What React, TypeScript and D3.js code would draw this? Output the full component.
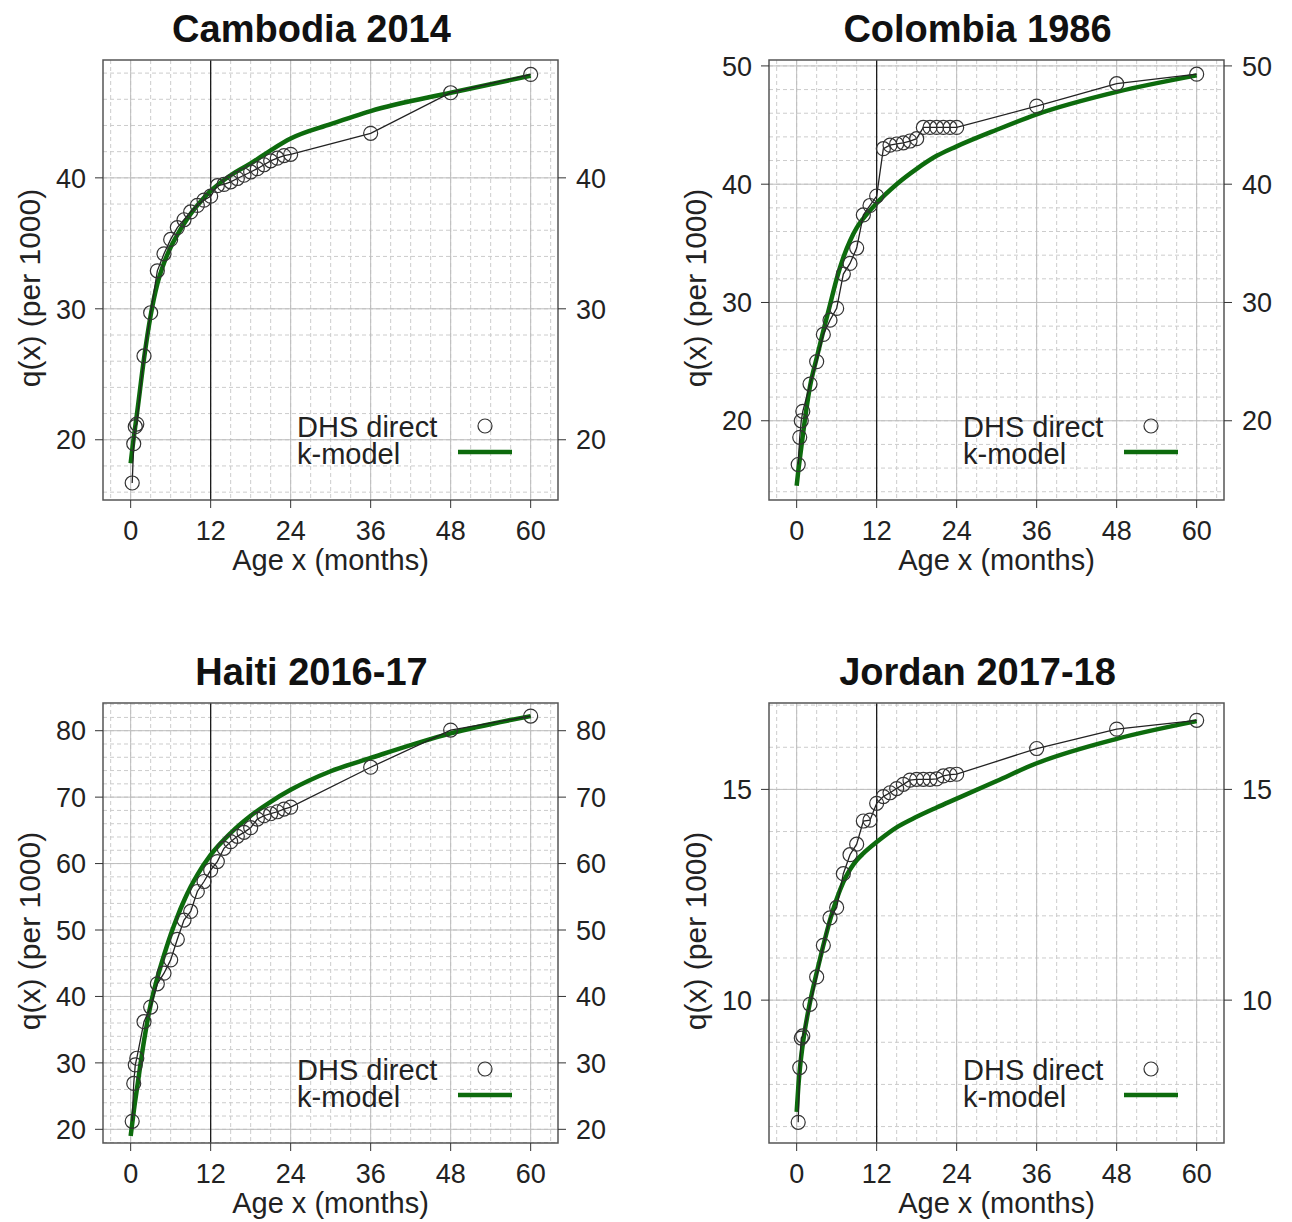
import * as d3 from 'd3';

// ages (months) of the DHS direct estimates
const ages = [0.23, 0.46, 0.69, 0.92, 2, 3, 4, 5, 6, 7, 8, 9, 10, 11, 12, 13, 14, 15, 16, 17, 18, 19, 20, 21, 22, 23, 24, 36, 48, 60];
// ages at which the k-model curve was read
const kAges = [0, 0.25, 0.5, 1, 2, 3, 4, 5, 6, 7, 8, 9, 10, 12, 15, 18, 21, 24, 30, 36, 48, 60];
const xTicks = [0, 12, 24, 36, 48, 60];

const cambodiaDirect = [16.7, 19.7, 21.0, 21.2, 26.4, 29.7, 32.9, 34.2, 35.3, 36.2, 36.8, 37.4, 37.9, 38.3, 38.6, 39.4, 39.5, 39.7, 39.95, 40.2, 40.45, 40.7, 41.0, 41.3, 41.5, 41.7, 41.8, 43.4, 46.5, 47.9];
const cambodiaK = [18.2, 19.3, 20.3, 22.2, 26.2, 29.5, 31.9, 33.5, 34.7, 35.65, 36.5, 37.25, 37.9, 39.0, 40.2, 41.1, 42.1, 43.0, 44.1, 45.1, 46.5, 47.8];

const colombiaDirect = [16.3, 18.6, 20.0, 20.8, 23.1, 25.0, 27.3, 28.5, 29.5, 32.4, 33.3, 34.6, 37.4, 38.2, 39.0, 43.0, 43.3, 43.4, 43.5, 43.65, 43.85, 44.8, 44.8, 44.8, 44.8, 44.8, 44.8, 46.6, 48.5, 49.3];
const colombiaK = [14.5, 15.8, 16.9, 19.1, 22.9, 25.3, 27.6, 29.8, 32.0, 33.8, 35.2, 36.3, 37.1, 38.4, 40.0, 41.3, 42.4, 43.2, 44.6, 45.9, 47.8, 49.2];

const haitiDirect = [21.2, 26.9, 29.7, 30.7, 36.2, 38.4, 41.9, 43.5, 45.5, 48.6, 51.5, 52.8, 55.8, 57.3, 59.0, 60.3, 62.3, 63.3, 64.1, 64.7, 65.4, 66.7, 67.2, 67.5, 67.8, 68.2, 68.5, 74.5, 80.1, 82.2];
const haitiK = [19.0, 21.0, 23.0, 26.5, 33.3, 38.8, 42.8, 46.2, 49.3, 52.0, 54.4, 56.5, 58.3, 61.3, 64.6, 67.2, 69.3, 71.1, 73.9, 75.9, 79.6, 82.2];

const jordanDirect = [7.1, 8.4, 9.1, 9.15, 9.9, 10.55, 11.3, 11.95, 12.2, 13.0, 13.45, 13.7, 14.25, 14.27, 14.67, 14.83, 14.92, 15.02, 15.12, 15.22, 15.24, 15.24, 15.24, 15.25, 15.32, 15.35, 15.36, 15.97, 16.43, 16.64];
const jordanK = [7.35, 7.95, 8.4, 9.05, 9.95, 10.65, 11.3, 11.9, 12.4, 12.8, 13.1, 13.32, 13.48, 13.75, 14.1, 14.35, 14.57, 14.78, 15.2, 15.62, 16.2, 16.62];

const panels = [
  { title: 'Cambodia 2014', direct: cambodiaDirect, k: cambodiaK, yTicks: [20, 30, 40], minor: 2, yDomain: [15.4, 49.0], left: 103, top: 60 },
  { title: 'Colombia 1986', direct: colombiaDirect, k: colombiaK, yTicks: [20, 30, 40, 50], minor: 2, yDomain: [13.3, 50.5], left: 769, top: 60 },
  { title: 'Haiti 2016-17', direct: haitiDirect, k: haitiK, yTicks: [20, 30, 40, 50, 60, 70, 80], minor: 2, yDomain: [17.94, 84.17], left: 103, top: 703 },
  { title: 'Jordan 2017-18', direct: jordanDirect, k: jordanK, yTicks: [10, 15], minor: 1, yDomain: [6.61, 17.05], left: 769, top: 703 },
];

const W = 455;
const H = 440;
const FONT = '"Liberation Sans", Arial, sans-serif';
const GREEN = '#0d6b0d';

function Panel({ p }: { p: any }) {
  const x = d3.scaleLinear().domain([-4.15, 64.1]).range([0, W]);
  const y = d3.scaleLinear().domain(p.yDomain).range([H, 0]);

  const xMinor = d3.range(-3, 64.1, 3);
  const y0 = Math.ceil(p.yDomain[0] / p.minor) * p.minor;
  const yMinor = d3.range(y0, p.yDomain[1], p.minor);

  const direct = d3.line<number>().x((_, i) => x(ages[i])).y((d) => y(d));
  const kmodel = d3.line<number>().x((_, i) => x(kAges[i])).y((d) => y(d)).curve(d3.curveMonotoneX);

  return (
    <g transform={`translate(${p.left},${p.top})`} fontFamily={FONT}>
      {/* minor dashed grid */}
      {xMinor.map((v) => (
        <line key={'xm' + v} x1={x(v)} x2={x(v)} y1={0} y2={H} stroke="#cccccc" strokeDasharray="4 3" />
      ))}
      {yMinor.map((v) => (
        <line key={'ym' + v} x1={0} x2={W} y1={y(v)} y2={y(v)} stroke="#cccccc" strokeDasharray="4 3" />
      ))}
      {/* major solid grid */}
      {xTicks.map((v) => (
        <line key={'xg' + v} x1={x(v)} x2={x(v)} y1={0} y2={H} stroke="#bdbdbd" />
      ))}
      {p.yTicks.map((v: number) => (
        <line key={'yg' + v} x1={0} x2={W} y1={y(v)} y2={y(v)} stroke="#bdbdbd" />
      ))}
      <line x1={x(12)} x2={x(12)} y1={0} y2={H} stroke="#111" strokeWidth={1.2} />

      {/* k-model and direct estimates */}
      <path d={kmodel(p.k) || ''} fill="none" stroke={GREEN} strokeWidth={4.5} strokeLinejoin="round" />
      <path d={direct(p.direct) || ''} fill="none" stroke="#222" strokeWidth={1.3} />
      {p.direct.map((d: number, i: number) => (
        <circle key={'c' + i} cx={x(ages[i])} cy={y(d)} r={7} fill="none" stroke="#333" strokeWidth={1.2} />
      ))}

      {/* box */}
      <rect x={0} y={0} width={W} height={H} fill="none" stroke="#555" strokeWidth={1.5} />

      {/* axes */}
      {xTicks.map((v) => (
        <g key={'xt' + v}>
          <line x1={x(v)} x2={x(v)} y1={H} y2={H + 8} stroke="#333" />
          <text x={x(v)} y={H + 40} textAnchor="middle" fontSize={27} fill="#222">{v}</text>
        </g>
      ))}
      {p.yTicks.map((v: number) => (
        <g key={'yt' + v}>
          <line x1={-8} x2={0} y1={y(v)} y2={y(v)} stroke="#333" />
          <line x1={W} x2={W + 8} y1={y(v)} y2={y(v)} stroke="#333" />
          <text x={-17} y={y(v)} dy="0.36em" textAnchor="end" fontSize={27} fill="#222">{v}</text>
          <text x={W + 18} y={y(v)} dy="0.36em" textAnchor="start" fontSize={27} fill="#222">{v}</text>
        </g>
      ))}
      <text x={W / 2} y={H + 70} textAnchor="middle" fontSize={29} fill="#222">Age x (months)</text>
      <text transform={`translate(-63,${H / 2 + 8}) rotate(-90)`} textAnchor="middle" fontSize={30} fill="#222">q(x) (per 1000)</text>
      <text x={W / 2 - 19} y={-18} textAnchor="middle" fontSize={38} fontWeight="bold" fill="#111">{p.title}</text>

      {/* legend */}
      <text x={194} y={377} fontSize={29} fill="#222">DHS direct</text>
      <text x={194} y={404} fontSize={29} fill="#222">k-model</text>
      <circle cx={382} cy={366} r={7} fill="none" stroke="#333" strokeWidth={1.2} />
      <line x1={355} x2={409} y1={392} y2={392} stroke={GREEN} strokeWidth={4.5} />
    </g>
  );
}

export default function App() {
  return (
    <svg width={1292} height={1222} style={{ position: 'absolute', left: 0, top: 0, background: '#fff' }}>
      {panels.map((p) => (
        <Panel key={p.title} p={p} />
      ))}
    </svg>
  );
}
